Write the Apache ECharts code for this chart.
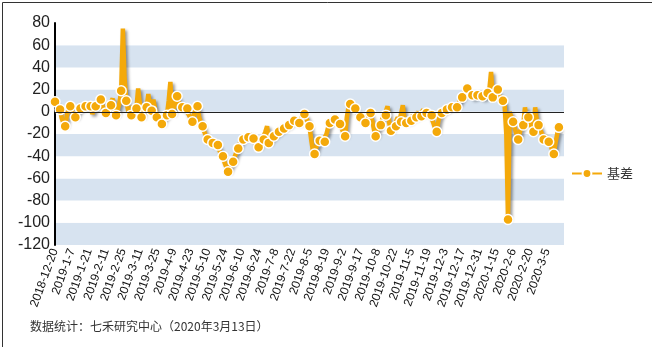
<!DOCTYPE html>
<html><head><meta charset="utf-8">
<script src="https://cdn.jsdelivr.net/npm/echarts@6/dist/echarts.min.js"></script>
<style>html,body{margin:0;padding:0;background:#fff}#c{width:652px;height:347px}</style>
</head><body><div id="c"></div>
<script>
// Tick labels shown on the x axis (every 10 trading days)
const tickLabels = ['2018-12-20','2019-1-7','2019-1-21','2019-2-11','2019-2-25','2019-3-11','2019-3-25','2019-4-9','2019-4-23','2019-5-10','2019-5-24','2019-6-10','2019-6-24','2019-7-8','2019-7-22','2019-8-5','2019-8-19','2019-9-2','2019-9-17','2019-10-8','2019-10-22','2019-11-5','2019-11-19','2019-12-3','2019-12-17','2019-12-31','2020-1-15','2020-2-6','2020-2-20','2020-3-5'];
// Exchange holidays (non-trading weekdays)
const holidays = ['2018-12-31','2019-1-1','2019-2-4','2019-2-5','2019-2-6','2019-2-7','2019-2-8','2019-4-5','2019-5-1','2019-5-2','2019-5-3','2019-6-7','2019-9-13','2019-10-1','2019-10-2','2019-10-3','2019-10-4','2019-10-7','2020-1-1','2020-1-24','2020-1-27','2020-1-28','2020-1-29','2020-1-30','2020-1-31'];
const categoryCount = 301;
// 基差 daily values
const basis = [
 9,6,4, 2,-6,-10, -13,-3,3, 5,0,-3, -5,-1,1, 3,4,4, 5,5,6, 5,-2,3, 5,7,9, 11,5,2,
 -1,3,5, 6,12,2, -3,2,8, 19,75,30, 10,2,-2, -3,5,1, 3,21,8, -5,2,6, 4,16,6, 1,11,2,
 -5,-2,-8, -11,-6,-5, -3,10,27, -2,3,8, 14,8,6, 4,5,2, 3,-3,-6, -9,-2,3, 5,-5,-10, -13,-18,-22,
 -25,-27,-27, -28,-30,-29, -30,-35,-38, -40,-46,-50, -54,-50,-47, -45,-40,-36, -33,-28,-26, -25,-22,-22, -23,-20,-22, -24,-28,-30,
 -32,-28,-26, -25,-18,-13, -28,-25,-24, -22,-20,-19, -18,-16,-15, -15,-13,-12, -12,-10,-8, -8,-9,-10, -10,-6,-3, -2,-5,-9,
 -13,-25,-35, -38,-32,-28, -26,-24,-26, -27,-20,-14, -10,-8,-7, -7,-9,-10, -11,-15,-19, -22,-5,4, 7,5,4, 3,-1,-3,
 -5,-7,-9, -10,-4,0, -1,-8,-16, -22,-17,-14, -12,-6,-4, -3,5,-10, -17,-10,-12, -13,-5,-9, -9,6,-8, -10,-5,-9,
 -8,-3,-6, -5,0,-4, -4,2,-2, -1,1,-2, -3,-10,-15, -18,-8,-3, -1,1,2, 2,4,3, 4,5,4, 4,8,11,
 13,17,20, 21,18,16, 15,12,16, 15,18,14, 14,12,16, 17,20,36, 13,17,19, 20,14,12, 10,6,-20, -97,0,-5,
 -9,-15,-20, -25,-18,-14, -12,4,-8, -5,-10,-14, -18,4,-8, -12,-16,-20, -25,-22,-24, -27,-30,-34, -38,-28,-20, -14
];
const markerEvery = 3;

function tradingDays(start, n) {
  const out = [];
  const d = new Date(start + 'T00:00:00');
  const hs = new Set(holidays);
  while (out.length < n) {
    const s = d.getFullYear() + '-' + (d.getMonth() + 1) + '-' + d.getDate();
    const w = d.getDay();
    if (w !== 0 && w !== 6 && !hs.has(s)) out.push(s);
    d.setDate(d.getDate() + 1);
  }
  return out;
}
const categories = tradingDays('2018-12-20', categoryCount);
const seriesData = basis.map((v, i) => i % markerEvery === 0 ? v : { value: v, symbol: 'none' });

const chart = echarts.init(document.getElementById('c'), null, { renderer: 'canvas' });
const ORANGE = '#f4a90a';
chart.setOption({
  animation: false,
  backgroundColor: '#fff',
  textStyle: { fontFamily: 'Liberation Sans, Arial, sans-serif' },
  grid: { left: 55, right: 88, top: 23, bottom: 102 },
  legend: {
    orient: 'vertical', right: 14, top: 'middle',
    itemWidth: 30, itemHeight: 11, itemGap: 8,
    textStyle: { fontSize: 13, color: '#333', fontFamily: 'Noto Sans CJK SC' },
    data: ['基差']
  },
  xAxis: {
    type: 'category', data: categories, boundaryGap: false,
    axisLine: { show: false }, axisTick: { show: false },
    axisLabel: {
      interval: (i, v) => tickLabels.includes(v),
      rotate: 70, fontSize: 12, color: '#111', margin: 4,
      fontFamily: 'Liberation Sans, Arial, sans-serif'
    }
  },
  yAxis: {
    type: 'value', min: -120, max: 80, interval: 20,
    axisLine: { show: true, lineStyle: { color: '#000', width: 2 } },
    axisTick: { show: false },
    axisLabel: { fontSize: 16, color: '#222', margin: 5, fontFamily: 'Liberation Sans, Arial, sans-serif' },
    splitLine: { show: false },
    splitArea: { show: true, areaStyle: { color: ['#d7e3f0', '#ffffff'] } }
  },
  series: [{
    name: '基差', type: 'line', data: seriesData,
    showSymbol: true, showAllSymbol: true,
    symbol: 'circle', symbolSize: 10,
    lineStyle: { color: ORANGE, width: 4.5, shadowColor: 'rgba(0,0,0,0.4)', shadowBlur: 3, shadowOffsetX: 2, shadowOffsetY: 2 },
    itemStyle: { color: ORANGE, borderColor: '#fff', borderWidth: 1.5 },
    markLine: {
      silent: true, symbol: 'none', label: { show: false },
      lineStyle: { color: '#222', width: 1, type: 'solid' },
      data: [{ yAxis: 0 }]
    },
    z: 3
  }],
  graphic: [
    { type: 'rect', left: 0, top: 0, shape: { width: 651, height: 346 }, style: { fill: 'none', stroke: '#333', lineWidth: 1 }, silent: true },
    { type: 'text', left: 30, top: 320, style: { text: '数据统计：七禾研究中心（2020年3月13日）', fontSize: 12, fill: '#333', fontFamily: 'Noto Sans CJK SC' } }
  ]
});
</script></body></html>
